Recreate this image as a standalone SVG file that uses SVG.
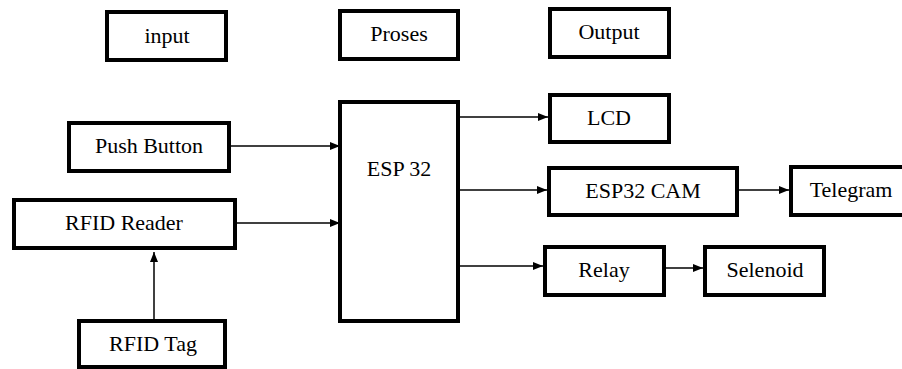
<svg xmlns="http://www.w3.org/2000/svg" width="902" height="369" viewBox="0 0 902 369">
<style>
.box{fill:#fff;stroke:#000;stroke-width:4}
.lbl{font-size:22px;fill:#000;text-anchor:middle}
.conn{stroke:#000;stroke-width:1.5;fill:none}
</style>
<defs>
<marker id="ah" markerUnits="userSpaceOnUse" markerWidth="10" markerHeight="10" viewBox="0 0 10 10" refX="10" refY="5" orient="auto">
<path d="M0,1 L10,5 L0,9 Z" fill="#000"/>
</marker>
</defs>
<rect width="902" height="369" fill="#fff"/>
<g id="connectors">
<line class="conn" x1="231" y1="146" x2="340" y2="146" marker-end="url(#ah)"/>
<line class="conn" x1="230" y1="223" x2="340" y2="223" marker-end="url(#ah)"/>
<line class="conn" x1="154" y1="319" x2="154" y2="252" marker-end="url(#ah)"/>
<line class="conn" x1="460" y1="117" x2="548" y2="117" marker-end="url(#ah)"/>
<line class="conn" x1="460" y1="190" x2="547" y2="190" marker-end="url(#ah)"/>
<line class="conn" x1="739" y1="190" x2="789" y2="190" marker-end="url(#ah)"/>
<line class="conn" x1="460" y1="266" x2="543" y2="266" marker-end="url(#ah)"/>
<line class="conn" x1="666" y1="268" x2="703" y2="268" marker-end="url(#ah)"/>
</g>
<g font-family="'Liberation Serif', 'DejaVu Serif', serif">
<g id="input"><rect class="box" x="107" y="12" width="119" height="48"/><text class="lbl" x="167" y="43">input</text></g>
<g id="proses"><rect class="box" x="340" y="11" width="118" height="48"/><text class="lbl" x="399" y="41">Proses</text></g>
<g id="output"><rect class="box" x="550" y="9" width="119" height="48"/><text class="lbl" x="609" y="39">Output</text></g>
<g id="push-button"><rect class="box" x="69" y="123" width="160" height="48"/><text class="lbl" x="149" y="153">Push Button</text></g>
<g id="rfid-reader"><rect class="box" x="14" y="200" width="221" height="48"/><text class="lbl" x="124" y="230">RFID Reader</text></g>
<g id="rfid-tag"><rect class="box" x="79" y="321" width="146" height="46"/><text class="lbl" x="153" y="351">RFID Tag</text></g>
<g id="esp32"><rect class="box" x="340" y="102" width="118" height="219"/><text class="lbl" x="399" y="176">ESP 32</text></g>
<g id="lcd"><rect class="box" x="550" y="95" width="119" height="47"/><text class="lbl" x="609" y="125">LCD</text></g>
<g id="esp32-cam"><rect class="box" x="549" y="168" width="188" height="47"/><text class="lbl" x="643" y="198">ESP32 CAM</text></g>
<g id="telegram"><rect class="box" x="791" y="167" width="118" height="48"/><text class="lbl" x="851" y="197">Telegram</text></g>
<g id="relay"><rect class="box" x="545" y="247" width="119" height="48"/><text class="lbl" x="604" y="277">Relay</text></g>
<g id="selenoid"><rect class="box" x="705" y="247" width="119" height="48"/><text class="lbl" x="765" y="277">Selenoid</text></g>
</g>
</svg>
